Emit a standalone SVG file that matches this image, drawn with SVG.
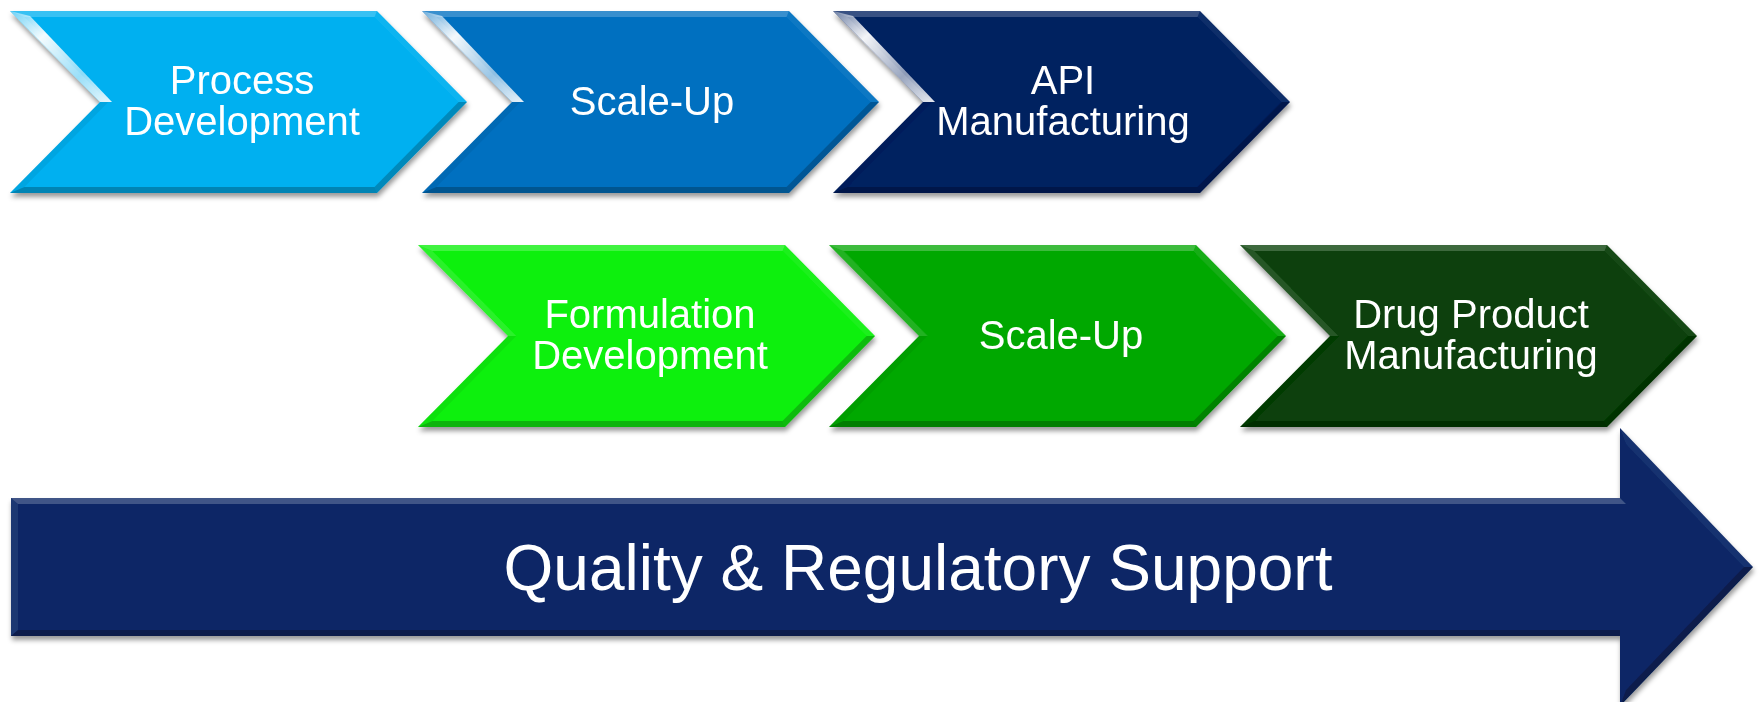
<svg xmlns="http://www.w3.org/2000/svg" xmlns:xlink="http://www.w3.org/1999/xlink" width="1761" height="702" viewBox="0 0 1761 702">
  <style>
    .lbl { font-family: "Liberation Sans", Arial, sans-serif; font-size: 40px; fill: #FFFFFF; text-anchor: middle; }
    .big { font-family: "Liberation Sans", Arial, sans-serif; font-size: 64px; fill: #FFFFFF; text-anchor: middle; }
  </style>
  <defs>
    <filter id="shadow" x="-5%" y="-10%" width="110%" height="130%">
      <feDropShadow dx="1" dy="4" stdDeviation="2.5" flood-color="#000000" flood-opacity="0.4"/>
    </filter>
    <linearGradient id="glintGrad" x1="0" y1="0" x2="1" y2="1">
      <stop offset="0" stop-color="#FFFFFF" stop-opacity="0.35"/>
      <stop offset="0.3" stop-color="#FFFFFF" stop-opacity="0.95"/>
      <stop offset="0.7" stop-color="#FFFFFF" stop-opacity="0.55"/>
      <stop offset="1" stop-color="#FFFFFF" stop-opacity="0.9"/>
    </linearGradient>
    <g id="chev">
      <polygon points="0,0 367,0 457,91 367,182 0,182 90,91"/>
      <!-- top face -->
      <polygon points="0,0 367,0 364.5,6 14.4,6" fill="#FFFFFF" fill-opacity="0.22"/>
      <!-- upper-left face -->
      <polygon points="0,0 14.4,6 98.4,91 90,91" fill="#FFFFFF" fill-opacity="0.12"/>
      <!-- lower-left face -->
      <polygon points="90,91 98.4,91 14.4,176 0,182" fill="#000000" fill-opacity="0.06"/>
      <!-- bottom face -->
      <polygon points="0,182 14.4,176 364.5,176 367,182" fill="#000000" fill-opacity="0.25"/>
      <!-- upper-right face -->
      <polygon points="367,0 457,91 448.6,91 364.5,6" fill="#FFFFFF" fill-opacity="0.06"/>
      <!-- lower-right face -->
      <polygon points="457,91 367,182 364.5,176 448.6,91" fill="#000000" fill-opacity="0.22"/>
    </g>
    <polygon id="glint" points="0,0 20,5 102,91 90,91" fill="url(#glintGrad)"/>
  </defs>

  <g id="connectors"></g>

  <g id="node-process-development" filter="url(#shadow)">
    <use xlink:href="#chev" href="#chev" x="10" y="11" fill="#00B0F0"/>
    <use xlink:href="#glint" href="#glint" x="10" y="11"/>
    <text class="lbl" x="242" y="94">Process</text>
    <text class="lbl" x="242" y="135">Development</text>
  </g>

  <g id="node-scale-up-api" filter="url(#shadow)">
    <use xlink:href="#chev" href="#chev" x="422" y="11" fill="#0070C0"/>
    <use xlink:href="#glint" href="#glint" x="422" y="11"/>
    <text class="lbl" x="652" y="115">Scale-Up</text>
  </g>

  <g id="node-api-manufacturing" filter="url(#shadow)">
    <use xlink:href="#chev" href="#chev" x="833" y="11" fill="#002060"/>
    <use xlink:href="#glint" href="#glint" x="833" y="11"/>
    <text class="lbl" x="1063" y="94">API</text>
    <text class="lbl" x="1063" y="135">Manufacturing</text>
  </g>

  <g id="node-formulation-development" filter="url(#shadow)">
    <use xlink:href="#chev" href="#chev" x="418" y="245" fill="#0CF00C"/>
    <text class="lbl" x="650" y="328">Formulation</text>
    <text class="lbl" x="650" y="369">Development</text>
  </g>

  <g id="node-scale-up-dp" filter="url(#shadow)">
    <use xlink:href="#chev" href="#chev" x="829" y="245" fill="#06A806"/>
    <text class="lbl" x="1061" y="349">Scale-Up</text>
  </g>

  <g id="node-drug-product-manufacturing" filter="url(#shadow)">
    <use xlink:href="#chev" href="#chev" x="1240" y="245" fill="#073F07"/>
    <text class="lbl" x="1471" y="328">Drug Product</text>
    <text class="lbl" x="1471" y="369">Manufacturing</text>
  </g>

  <g id="node-quality-regulatory-support" filter="url(#shadow)">
    <polygon points="11,498 1620,498 1620,428 1753,567 1620,706 1620,636 11,636" fill="#0A2666"/>
    <polygon points="11,498 1620,498 1626,504 18,504" fill="#FFFFFF" fill-opacity="0.22"/>
    <polygon points="11,498 18,504 18,630 11,636" fill="#FFFFFF" fill-opacity="0.08"/>
    <polygon points="11,636 18,630 1620,630 1620,636" fill="#000000" fill-opacity="0.25"/>
    <polygon points="1620,428 1753,567 1744,567 1626,444" fill="#FFFFFF" fill-opacity="0.06"/>
    <polygon points="1753,567 1620,706 1626,690 1744,567" fill="#000000" fill-opacity="0.25"/>
    <text class="big" x="918" y="590">Quality &amp; Regulatory Support</text>
  </g>
</svg>
